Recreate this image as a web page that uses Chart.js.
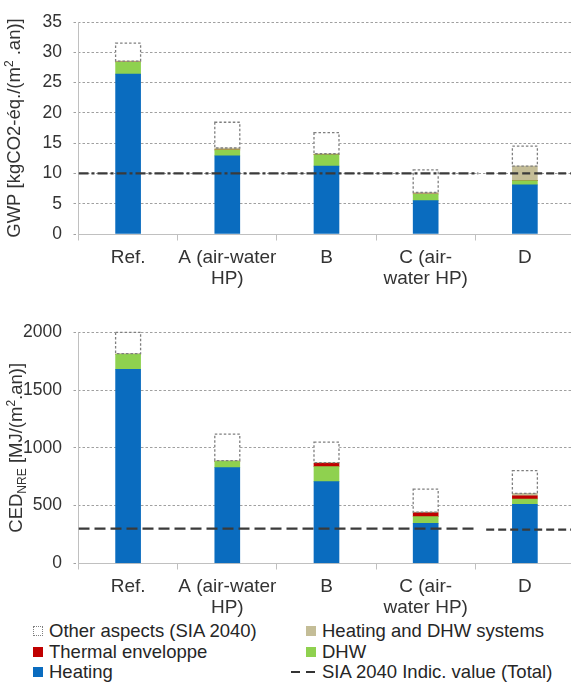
<!DOCTYPE html>
<html>
<head>
<meta charset="utf-8">
<script src="https://cdn.jsdelivr.net/npm/chart.js@4.4.1/dist/chart.umd.min.js"></script>
<style>
  html, body { margin: 0; padding: 0; background: #fff; }
  #page { position: relative; width: 571px; height: 684px; overflow: hidden; font-family: "Liberation Sans", Arial, sans-serif; }
  #gwp { position: absolute; left: 0; top: 0; }
  #ced { position: absolute; left: 0; top: 296px; }
  .legend { position: absolute; top: 620.5px; font-size: 18.5px; color: #262626; }
  .legend .item { display: flex; align-items: center; height: 20.7px; white-space: nowrap; }
  .legend .sw { display: inline-block; width: 10px; height: 10px; margin-right: 6px; box-sizing: border-box; }
  .legend.c1 { left: 33px; }
  .legend.c2 { left: 291px; }
  .legend.c2 .sw { margin-left: 15px; }
  .legend .dash { display: inline-block; width: 26px; height: 2px; margin-right: 5px;
    background: repeating-linear-gradient(to right, #333 0 9px, transparent 9px 15px); }
</style>
</head>
<body>
<div id="page">
  <canvas id="gwp" width="571" height="296"></canvas>
  <canvas id="ced" width="571" height="324"></canvas>
  <div class="legend c1">
    <div class="item"><span class="sw" style="border:1px dotted #808080;background:#fff"></span>Other aspects (SIA 2040)</div>
    <div class="item"><span class="sw" style="background:#c00000"></span>Thermal enveloppe</div>
    <div class="item"><span class="sw" style="background:#0a6cbf"></span>Heating</div>
  </div>
  <div class="legend c2">
    <div class="item"><span class="sw" style="background:#c4bd97"></span>Heating and DHW systems</div>
    <div class="item"><span class="sw" style="background:#8fd14f"></span>DHW</div>
    <div class="item"><span class="dash"></span>SIA 2040 Indic. value (Total)</div>
  </div>
</div>
<script>
const categories = [["Ref."], ["A (air-water", "HP)"], ["B"], ["C (air-", "water HP)"], ["D"]];
const catPos = [0, 1, 2, 3, 4];

// GWP [kgCO2-eq./(m2.an)]
const gwpHeating  = [26.4, 12.9, 11.2, 5.5, 8.1];
const gwpDhw      = [2.0, 1.0, 1.9, 1.1, 0.7];
const gwpEnvelope = [0, 0, 0, 0, 0];
const gwpSystems  = [0.15, 0.3, 0.15, 0.25, 2.4];
const gwpOther    = [2.95, 4.25, 3.5, 3.75, 3.3];
const gwpTicks    = [0, 5, 10, 15, 20, 25, 30, 35];

// CED NRE [MJ/(m2.an)]
const cedHeating  = [1680, 828, 707, 346, 511];
const cedDhw      = [130, 55, 130, 58, 46];
const cedEnvelope = [0, 0, 29, 33, 28];
const cedSystems  = [5, 6, 5, 6, 21];
const cedOther    = [185, 230, 179, 200, 196];
const cedTicks    = [0, 500, 1000, 1500, 2000];

// SIA 2040 indicative value (two drawn segments, as in the source figure)
const limitX   = [-0.5, 3.53, 3.57, 3.61, 4.47];
const gwpLimit = [10, 10, null, 10, 10];
const cedLimit = [300, 300, null, 291, 291];

const FONT = '"Liberation Sans", Arial, sans-serif';
const COLORS = { heating: "#0a6cbf", dhw: "#8fd14f", envelope: "#c00000", systems: "#c4bd97", other: "#ffffff" };
const CLEAR = "rgba(0,0,0,0)";

Chart.defaults.font.family = FONT;
Chart.defaults.color = "#333";

// Excel-style axes: dotted value gridlines, light axis lines, boundary ticks
const excelGrid = {
  id: "excelGrid",
  beforeDatasetsDraw(chart, _args, opts) {
    const { ctx, chartArea, scales: { x, y } } = chart;
    const crisp = (v) => Math.round(v - 0.5) + 0.5;
    const y0 = crisp(y.getPixelForValue(opts.yTicks[0]));
    const left = crisp(chartArea.left);
    ctx.save();
    ctx.lineWidth = 1;
    ctx.strokeStyle = "#a0a0a0";
    ctx.setLineDash([2.5, 2]);
    for (const v of opts.yTicks) {
      const py = crisp(y.getPixelForValue(v));
      ctx.beginPath();
      ctx.moveTo(left - 5, py);
      ctx.lineTo(v === opts.yTicks[0] ? left : chartArea.right, py);
      ctx.stroke();
    }
    ctx.setLineDash([]);
    ctx.strokeStyle = "#c0c0c0";
    ctx.beginPath();
    ctx.moveTo(left, chartArea.top);
    ctx.lineTo(left, y0);
    ctx.moveTo(left, y0);
    ctx.lineTo(chartArea.right, y0);
    for (const p of catPos) {
      const px = crisp(x.getPixelForValue(p - 0.5));
      ctx.moveTo(px, y0);
      ctx.lineTo(px, y0 + 6);
    }
    ctx.stroke();
    ctx.restore();
  },
};

// dotted outline for the "other aspects" boxes
const dottedBoxes = {
  id: "dottedBoxes",
  afterDatasetsDraw(chart) {
    const { ctx } = chart;
    chart.data.datasets.forEach((ds, i) => {
      if (!ds.dotted) return;
      const meta = chart.getDatasetMeta(i);
      ctx.save();
      ctx.strokeStyle = "#7f7f7f";
      ctx.lineWidth = 1.3;
      ctx.setLineDash([2.5, 2]);
      for (const bar of meta.data) {
        const { x, y, base, width } = bar.getProps(["x", "y", "base", "width"], true);
        ctx.strokeRect(x - width / 2, y, width, base - y);
      }
      ctx.restore();
    });
  },
};

// rotated y title with sub/superscripts
const axisTitle = {
  id: "axisTitle",
  afterDraw(chart, _args, opts) {
    if (!opts || !opts.parts) return;
    const { ctx, chartArea } = chart;
    const size = opts.size;
    const fontOf = (p) => `${p.sub || p.sup ? size * 0.65 : size}px ${FONT}`;
    ctx.save();
    ctx.translate(opts.x, (chartArea.top + chartArea.bottom) / 2);
    ctx.rotate(-Math.PI / 2);
    let total = 0;
    for (const p of opts.parts) { ctx.font = fontOf(p); total += ctx.measureText(p.t).width; }
    let cx = -total / 2;
    ctx.fillStyle = "#333";
    ctx.textBaseline = "middle";
    ctx.textAlign = "left";
    for (const p of opts.parts) {
      ctx.font = fontOf(p);
      const dy = p.sub ? size * 0.32 : p.sup ? -size * 0.3 : 0;
      ctx.fillText(p.t, cx, dy);
      cx += ctx.measureText(p.t).width;
    }
    ctx.restore();
  },
};

function barSet(label, values, color, extra = {}) {
  return {
    label, data: catPos.map((x, i) => ({ x, y: values[i] })),
    backgroundColor: color, borderWidth: 0, barThickness: 25, order: 1, ...extra,
  };
}

function stackedChart(canvas, s) {
  return new Chart(canvas, {
    type: "bar",
    data: {
      datasets: [
        barSet("Heating", s.heating, COLORS.heating),
        barSet("DHW", s.dhw, COLORS.dhw),
        barSet("Thermal enveloppe", s.envelope, COLORS.envelope),
        barSet("Heating and DHW systems", s.systems, COLORS.systems),
        barSet("Other aspects (SIA 2040)", s.other, COLORS.other, { dotted: true }),
        {
          type: "line", label: "SIA 2040 Indic. value (Total)", stack: "limit", order: 0,
          data: limitX.map((x, i) => ({ x, y: s.limit[i] })),
          borderColor: "#3a3a3a", borderWidth: 2.2, pointRadius: 0, spanGaps: false, fill: false,
          segment: { borderDash: (c) => (c.p0.parsed.x < 3.55 ? s.dashA : s.dashB) },
        },
      ],
    },
    options: {
      responsive: false, animation: false,
      layout: { padding: { top: s.padTop, left: 0, right: 0, bottom: 0 } },
      plugins: {
        legend: { display: false }, tooltip: { enabled: false },
        excelGrid: { yTicks: s.ticks },
        axisTitle: { parts: s.title, x: s.titleX, size: 18.5 },
      },
      scales: {
        x: {
          type: "linear", min: -0.5, max: 4.465, stacked: true, offset: false,
          afterFit: (a) => { a.height = s.xAxisH; },
          grid: { drawOnChartArea: false, offset: false, tickLength: 6, color: CLEAR, tickColor: CLEAR },
          border: { display: false },
          ticks: {
            stepSize: 0.5, includeBounds: false, autoSkip: false, maxRotation: 0, minRotation: 0,
            padding: s.xPad, color: "#333", font: { size: 19, lineHeight: 1.08 },
            callback: (v) => (Number.isInteger(v) ? categories[v] : ""),
          },
        },
        y: {
          stacked: true, min: s.ticks[0], max: s.ticks[s.ticks.length - 1],
          afterFit: (a) => { a.width = 78.5; },
          grid: { color: CLEAR, tickLength: 5, tickColor: CLEAR },
          border: { display: false },
          ticks: {
            stepSize: s.ticks[1] - s.ticks[0], padding: 11.5, color: "#333", font: { size: 17.5 },
            callback: (v) => String(v),
          },
        },
      },
    },
    plugins: [excelGrid, dottedBoxes, axisTitle],
  });
}

stackedChart(document.getElementById("gwp"), {
  heating: gwpHeating, dhw: gwpDhw, envelope: gwpEnvelope, systems: gwpSystems, other: gwpOther,
  limit: gwpLimit, ticks: gwpTicks, dashA: [10, 3, 3, 3], dashB: [8, 4],
  padTop: 19, xAxisH: 62, xPad: 8, titleX: 15,
  title: [{ t: "GWP [kgCO2-éq./(m" }, { t: "2", sup: true }, { t: " .an)]" }],
});

stackedChart(document.getElementById("ced"), {
  heating: cedHeating, dhw: cedDhw, envelope: cedEnvelope, systems: cedSystems, other: cedOther,
  limit: cedLimit, ticks: cedTicks, dashA: [11, 5], dashB: [8, 4],
  padTop: 36.3, xAxisH: 56.7, xPad: 7.5, titleX: 17,
  title: [{ t: "CED" }, { t: "NRE", sub: true }, { t: " [MJ/(m" }, { t: "2", sup: true }, { t: ".an)]" }],
});
</script>
</body>
</html>
